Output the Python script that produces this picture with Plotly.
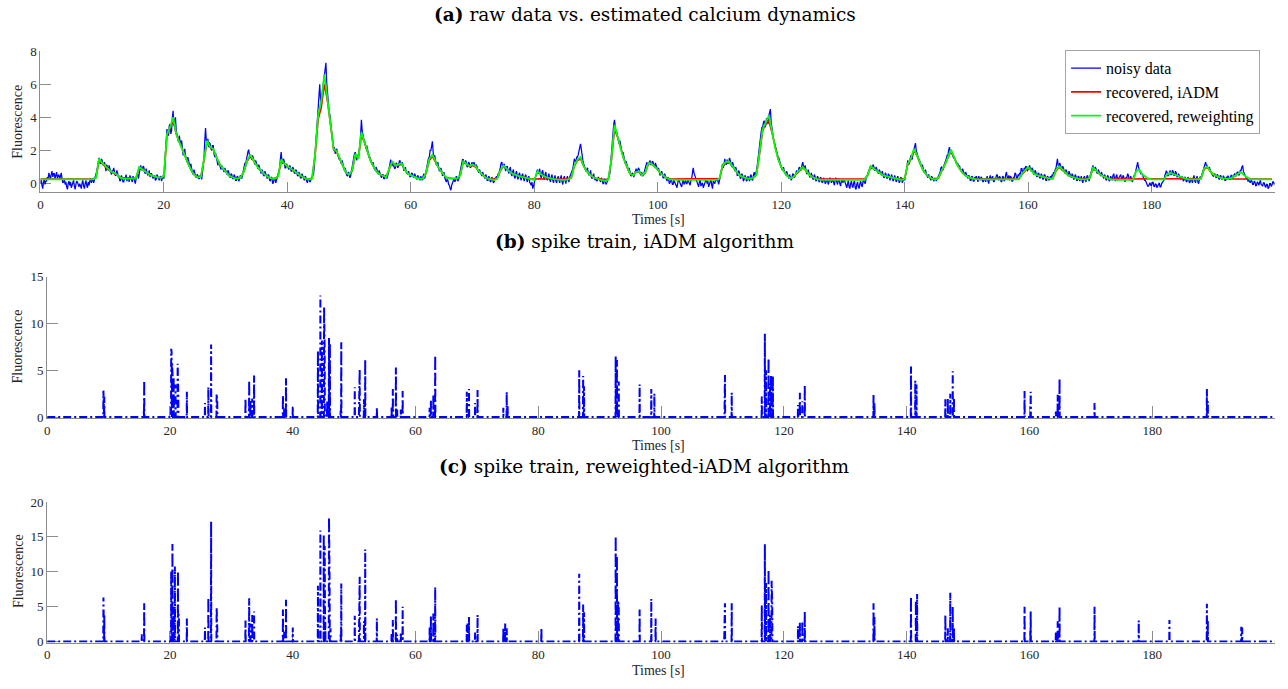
import plotly.graph_objects as go

# ---------------- data ----------------
RAW_STEP = 0.125  # seconds between noisy samples
FIT_STEP = 0.5    # seconds between recovered samples
ROW_SPAN = 10.0   # each row below covers 10 s

noisy_rows = [
    [0.05,0.25,-0.1,-0.3,0.1,0.3,-0.05,0.15,0.15,0.4,0.3,0.65,0.45,0.25,0.55,0.75,0.4,0.6,0.6,0.3,0.5,0.7,0.35,0.55,0.55,0.25,0.45,0.65,0.3,0.05,0.1,0.25,-0.05,0.1,-0.2,-0.35,0.0,0.15,-0.1,0.1,-0.25,-0.05,0.05,0.2,-0.15,-0.35,-0.05,0.15,0.1,-0.1,-0.2,0.0,-0.1,-0.3,0.05,0.2,-0.15,-0.3,0.0,0.2,-0.1,-0.25,0.1,-0.1,0.15,0.3,0.05,0.25,0.3,0.05,0.2,0.4,0.45,0.75,1.0,1.45,1.55,1.25,1.2,1.5],
    [1.4,1.15,1.1,1.3,0.95,0.75,1.15,0.9,0.8,1.1,0.9,0.65,0.55,0.8,0.75,0.95,0.7,0.5,0.5,0.8,0.65,0.4,0.4,0.15,0.2,0.5,0.35,0.1,0.1,0.35,0.3,0.55,0.15,0.35,0.35,0.1,0.5,0.3,0.3,0.1,0.45,0.3,0.15,0.0,0.3,0.55,0.55,0.3,0.6,1.0,1.1,0.85,0.8,1.05,1.0,0.7,0.6,0.9,0.75,0.5,0.55,0.8,0.4,0.6,0.6,0.35,0.3,0.5,0.45,0.2,0.25,0.55,0.4,0.2,0.2,0.4,0.45,0.15,0.3,0.5],
    [0.3,0.7,1.8,2.9,3.3,3.0,2.9,3.5,3.6,3.0,3.2,4.0,4.4,3.5,3.8,4.0,3.2,2.9,2.7,2.5,2.9,2.4,2.3,2.6,2.1,1.7,1.9,2.1,1.7,1.45,1.3,1.6,1.35,1.05,1.0,1.2,0.85,0.65,0.55,0.85,0.65,0.4,0.35,0.55,0.5,0.3,0.3,0.5,0.45,0.25,0.6,0.9,1.5,2.6,3.35,2.6,2.4,2.7,2.2,2.5,2.4,2.1,2.0,2.3,2.3,1.8,1.6,1.85,1.5,1.25,1.1,1.35,1.2,0.95,0.85,1.1,0.95,0.7,0.7,0.95],
    [0.8,0.55,0.55,0.8,0.7,0.45,0.35,0.6,0.55,0.3,0.3,0.55,0.45,0.2,0.2,0.45,0.4,0.15,0.25,0.5,0.45,0.3,0.6,0.9,0.95,1.25,1.2,1.5,1.55,1.95,2.05,1.65,1.7,1.5,1.45,1.7,1.5,1.15,1.15,1.4,1.2,0.95,0.9,1.15,0.95,0.65,0.6,0.85,0.75,0.5,0.45,0.75,0.6,0.3,0.3,0.55,0.5,0.2,0.15,0.4,0.35,0.0,0.05,0.35,0.3,0.05,0.2,0.45,0.55,0.75,0.9,1.5,1.9,1.35,1.2,1.5,1.35,0.95,0.95,1.2],
    [1.1,0.9,0.85,1.1,1.0,0.75,0.75,1.0,0.9,0.65,0.6,0.85,0.75,0.5,0.45,0.7,0.6,0.35,0.35,0.6,0.5,0.3,0.2,0.45,0.4,0.15,0.05,0.3,0.3,0.1,0.15,0.35,0.35,0.5,0.6,1.1,1.9,2.9,3.4,4.1,4.6,5.3,6.0,5.1,4.7,5.4,5.8,6.1,6.4,6.8,7.3,6.1,5.4,4.8,4.4,4.2,3.7,3.0,2.6,2.1,2.0,2.2,1.8,2.05,2.1,1.8,1.7,1.5,1.55,1.4,1.2,1.4,1.15,0.9,0.8,0.95,0.7,0.5,0.45,0.7],
    [0.6,0.35,0.45,0.75,1.0,1.35,1.6,1.8,1.9,1.5,1.4,1.7,1.7,2.0,2.3,3.0,3.85,3.2,2.9,2.7,2.6,2.4,2.1,2.3,2.0,1.75,1.6,1.6,1.4,1.25,1.15,1.3,1.05,0.85,0.8,1.0,0.85,0.6,0.55,0.8,0.65,0.45,0.35,0.55,0.55,0.3,0.3,0.5,0.5,0.3,0.45,0.65,0.95,1.3,1.45,1.2,1.25,1.05,1.1,0.9,0.95,1.25,1.2,0.95,1.05,1.35,1.4,1.15,1.15,1.3,0.95,0.8,0.8,1.0,0.7,0.55,0.55,0.75,0.6,0.4],
    [0.45,0.65,0.6,0.4,0.35,0.6,0.5,0.3,0.25,0.5,0.4,0.2,0.2,0.45,0.35,0.2,0.45,0.6,0.3,0.55,0.85,1.2,1.3,1.55,1.6,2.0,2.0,2.3,2.55,1.9,1.6,1.7,1.4,1.15,1.1,1.3,1.0,0.75,0.8,0.95,0.75,0.5,0.5,0.7,0.35,0.2,0.1,0.25,0.2,-0.05,-0.1,-0.3,-0.4,-0.1,0.05,0.25,0.3,0.1,0.2,0.45,0.35,0.15,0.25,0.5,0.6,0.9,1.1,1.45,1.45,1.2,1.25,1.4,1.3,1.0,1.05,1.3,1.2,0.95,1.0,1.25],
    [1.25,1.05,1.3,1.0,0.95,1.15,0.9,0.7,0.65,0.85,0.7,0.5,0.45,0.7,0.55,0.3,0.3,0.55,0.45,0.2,0.2,0.45,0.35,0.1,0.15,0.4,0.3,0.05,0.1,0.35,0.25,0.45,0.35,0.6,0.5,0.8,0.95,1.25,1.3,1.0,1.15,1.2,0.95,0.75,1.0,1.05,0.8,0.6,0.85,1.0,0.6,0.45,0.7,0.85,0.45,0.3,0.6,0.75,0.4,0.25,0.55,0.65,0.35,0.2,0.5,0.6,0.3,0.15,0.45,0.55,0.25,0.1,0.35,0.45,0.1,-0.1,-0.1,0.1,-0.3,-0.15],
    [0.1,0.3,0.4,0.65,0.85,0.6,0.7,0.9,0.5,0.35,0.7,0.8,0.4,0.25,0.55,0.7,0.3,0.2,0.45,0.6,0.25,0.1,0.4,0.55,0.2,0.05,0.35,0.5,0.15,0.05,0.3,0.45,0.2,0.05,0.35,0.5,0.1,-0.05,0.3,0.45,0.15,0.0,0.3,0.45,0.2,0.1,0.4,0.55,0.55,0.7,0.9,1.2,1.5,1.35,1.3,1.6,1.6,1.75,1.9,2.2,2.4,1.95,1.6,1.4,1.2,1.05,0.95,0.75,0.85,0.95,0.6,0.5,0.65,0.8,0.4,0.3,0.5,0.6,0.3,0.2],
    [0.35,0.15,0.2,0.4,0.3,0.1,0.1,0.35,0.25,0.0,0.0,0.3,0.15,-0.05,0.05,0.25,0.3,0.45,0.6,1.2,1.9,2.7,3.3,3.6,3.85,3.3,3.0,3.1,2.9,2.6,2.4,2.6,2.3,2.0,1.8,1.9,1.6,1.35,1.2,1.35,1.1,0.85,0.8,0.95,0.7,0.5,0.45,0.65,0.55,0.4,0.6,0.8,0.9,0.65,0.75,0.95,0.85,0.55,0.5,0.7,0.55,0.45,0.6,0.85,0.95,1.15,1.3,1.1,1.2,1.4,1.4,1.15,1.15,1.35,1.3,1.05,1.0,1.25,1.1,0.85],
    [0.8,0.95,0.7,0.5,0.55,0.75,0.6,0.35,0.35,0.6,0.45,0.2,0.15,0.4,0.3,0.0,0.05,0.3,0.2,-0.05,-0.05,0.2,0.1,-0.1,-0.15,-0.25,0.05,0.3,0.15,-0.05,-0.1,-0.2,0.1,0.25,-0.05,0.1,0.2,0.0,0.0,0.25,0.15,-0.05,-0.1,0.2,0.3,0.65,0.95,0.65,0.5,0.3,0.2,-0.05,-0.05,-0.2,0.1,0.25,-0.15,0.0,0.05,-0.25,-0.1,0.1,0.15,0.3,0.0,0.15,-0.2,-0.05,0.05,0.25,-0.1,-0.3,0.15,0.0,0.0,0.2,0.2,0.35,0.1,-0.05],
    [0.2,0.45,0.6,1.05,1.2,0.95,1.35,1.5,1.2,1.15,1.45,1.2,1.3,1.55,1.4,1.1,1.0,1.3,1.1,0.8,0.75,1.0,0.85,0.5,0.5,0.8,0.65,0.3,0.35,0.6,0.5,0.15,0.25,0.5,0.4,0.15,0.2,0.45,0.35,0.15,0.45,0.55,0.25,0.2,0.5,0.7,0.4,0.55,0.8,1.1,1.4,1.9,2.3,2.9,3.1,3.4,3.4,3.7,3.8,3.4,3.5,3.95,3.7,3.6,4.1,4.3,4.5,3.7,3.3,3.0,2.7,2.5,2.3,2.1,1.9,1.7,1.6,1.55,1.35,1.2],
    [1.1,0.85,0.8,1.0,0.75,0.55,0.5,0.75,0.55,0.35,0.3,0.55,0.4,0.2,0.35,0.6,0.55,0.35,0.45,0.7,0.8,0.6,0.7,0.95,1.0,0.8,0.85,1.15,1.3,1.0,0.9,1.1,0.85,0.6,0.6,0.85,0.65,0.4,0.4,0.65,0.5,0.25,0.3,0.55,0.4,0.15,0.2,0.45,0.35,0.1,0.15,0.4,0.3,0.05,0.1,0.35,0.25,0.0,0.05,0.3,0.2,-0.05,0.1,0.35,0.3,0.05,0.15,0.3,0.05,-0.1,0.25,0.35,0.1,-0.05,0.2,0.3,0.0,-0.15,0.15,0.25],
    [0.05,0.25,0.2,-0.05,-0.1,-0.25,0.1,0.2,-0.2,-0.3,0.0,0.15,-0.15,-0.25,0.05,0.15,-0.25,-0.35,-0.05,0.1,-0.2,-0.3,0.0,0.15,-0.1,-0.2,0.1,0.2,0.05,0.0,0.3,0.45,0.6,0.75,0.9,1.1,1.1,0.9,0.95,1.15,1.05,0.8,0.8,1.0,0.85,0.6,0.6,0.85,0.7,0.5,0.5,0.75,0.6,0.35,0.4,0.65,0.55,0.3,0.35,0.6,0.5,0.2,0.3,0.55,0.4,0.15,0.25,0.5,0.35,0.1,0.2,0.45,0.3,0.05,0.15,0.4,0.3,0.05,0.2,0.35],
    [0.2,0.4,0.6,1.0,1.4,1.15,1.2,1.5,1.7,1.45,1.5,1.85,2.1,2.3,2.45,2.0,1.8,1.65,1.5,1.45,1.25,1.1,1.0,1.15,0.9,0.7,0.65,0.85,0.6,0.4,0.35,0.55,0.45,0.25,0.2,0.45,0.35,0.15,0.15,0.35,0.3,0.15,0.25,0.45,0.5,0.6,0.7,0.95,1.0,0.85,0.85,1.1,1.2,1.35,1.5,1.7,1.7,2.0,2.2,1.95,1.9,1.85,1.75,1.6,1.55,1.5,1.4,1.25,1.2,1.2,1.0,1.1,0.9,0.75,0.7,0.9,0.7,0.55,0.5,0.7],
    [0.55,0.35,0.3,0.5,0.45,0.2,0.2,0.45,0.4,0.15,0.15,0.4,0.35,0.45,0.25,0.1,0.45,0.3,0.2,0.4,0.35,0.15,0.1,0.3,0.3,0.1,0.4,0.45,0.15,0.0,0.35,0.5,0.2,0.4,0.45,0.15,0.1,0.35,0.3,0.5,0.55,0.3,0.2,0.45,0.35,0.1,0.15,0.45,0.4,0.15,0.25,0.55,0.7,0.35,0.3,0.5,0.2,0.45,0.4,0.15,0.15,0.4,0.35,0.65,0.6,0.35,0.3,0.55,0.45,0.65,0.55,0.9,0.9,0.6,0.7,0.95,0.85,1.05,1.0,0.75],
    [0.9,1.1,1.1,0.85,0.75,0.95,0.85,0.6,0.55,0.8,0.7,0.45,0.4,0.65,0.6,0.35,0.35,0.6,0.5,0.25,0.3,0.55,0.5,0.2,0.2,0.45,0.4,0.2,0.25,0.45,0.35,0.5,0.45,0.7,0.6,0.85,0.9,1.2,1.5,1.1,1.0,1.25,1.1,0.8,0.8,1.05,0.9,0.65,0.6,0.85,0.7,0.45,0.45,0.75,0.6,0.35,0.35,0.6,0.5,0.25,0.3,0.55,0.45,0.2,0.2,0.45,0.4,0.15,0.3,0.45,0.15,0.05,0.35,0.45,0.2,0.1,0.4,0.5,0.3,0.15],
    [0.4,0.55,0.7,0.95,1.1,0.8,0.85,1.0,0.9,0.65,0.6,0.85,0.7,0.45,0.45,0.7,0.55,0.3,0.3,0.55,0.45,0.2,0.25,0.5,0.4,0.15,0.2,0.45,0.35,0.2,0.5,0.6,0.3,0.15,0.45,0.55,0.2,0.3,0.4,0.55,0.55,0.3,0.25,0.5,0.4,0.15,0.15,0.4,0.35,0.6,0.5,0.25,0.2,0.45,0.3,0.1,0.25,0.5,0.45,0.65,0.8,1.1,1.3,1.0,0.85,0.8,0.6,0.65,0.5,0.35,0.3,0.2,0.2,0.05,0.0,-0.15,-0.15,0.0,0.05,-0.1],
    [-0.1,0.05,0.1,-0.15,-0.2,0.0,-0.05,-0.25,-0.15,0.05,0.05,-0.2,-0.2,0.0,0.1,0.2,0.2,0.45,0.55,0.75,0.7,0.45,0.5,0.75,0.8,0.55,0.55,0.8,0.75,0.5,0.5,0.75,0.65,0.4,0.4,0.6,0.45,0.25,0.25,0.45,0.4,0.15,0.2,0.4,0.35,0.1,0.15,0.4,0.3,0.05,0.1,0.35,0.25,0.05,0.35,0.5,0.15,0.05,0.3,0.45,0.1,0.0,0.25,0.4,0.35,0.5,0.6,0.85,1.0,1.2,1.3,1.1,1.1,0.9,0.95,1.0,0.8,0.65,0.65,0.5],
    [0.45,0.6,0.6,0.4,0.35,0.55,0.5,0.3,0.25,0.5,0.45,0.25,0.3,0.45,0.4,0.2,0.2,0.4,0.35,0.45,0.4,0.25,0.25,0.5,0.5,0.3,0.35,0.55,0.6,0.45,0.5,0.7,0.7,0.5,0.55,0.8,0.8,1.0,1.1,0.75,0.6,0.45,0.45,0.3,0.3,0.15,0.2,0.05,0.05,0.2,0.15,-0.05,-0.05,0.15,0.1,-0.15,-0.1,0.1,0.05,-0.1,0.15,0.2,-0.05,-0.15,-0.15,0.05,0.05,-0.15,-0.2,-0.05,-0.05,-0.3,-0.25,0.0,0.0,-0.15,-0.1,0.1,0.1,-0.05],
]

iadm_rows = [
    [0.28,0.28,0.28,0.28,0.28,0.28,0.28,0.28,0.28,0.28,0.28,0.28,0.28,0.28,0.28,0.28,0.28,0.28,0.35,1.4],
    [1.2,1.0,0.85,0.7,0.62,0.5,0.37,0.32,0.3,0.3,0.3,0.35,0.95,0.85,0.7,0.6,0.5,0.42,0.38,0.35],
    [0.45,2.9,3.3,3.8,3.0,2.5,2.0,1.6,1.15,0.75,0.5,0.38,0.4,1.5,2.5,2.2,2.05,1.6,1.2,0.95],
    [0.7,0.5,0.4,0.33,0.3,0.4,0.75,1.35,1.65,1.4,1.1,0.85,0.65,0.5,0.38,0.3,0.3,0.45,1.35,1.2],
    [1.05,0.95,0.8,0.65,0.5,0.4,0.3,0.28,0.3,1.7,3.9,4.6,6.0,5.0,3.5,2.1,1.9,1.5,1.05,0.65],
    [0.55,0.75,1.7,1.5,2.9,2.5,1.9,1.35,1.0,0.7,0.55,0.45,0.4,0.85,1.3,1.1,1.1,1.2,0.85,0.6],
    [0.5,0.4,0.33,0.3,0.3,0.65,1.4,1.65,1.3,0.95,0.7,0.45,0.33,0.3,0.3,0.3,0.5,1.3,1.2,1.05],
    [1.1,1.0,0.75,0.55,0.4,0.3,0.28,0.28,0.3,0.75,1.05,0.9,0.72,0.6,0.5,0.45,0.4,0.38,0.32,0.28],
    [0.28,0.3,0.29,0.28,0.28,0.28,0.28,0.28,0.28,0.28,0.28,0.28,0.35,1.05,1.4,1.5,1.05,0.75,0.55,0.4],
    [0.32,0.28,0.26,0.25,0.28,1.4,3.3,2.8,2.1,1.5,1.0,0.6,0.5,0.7,0.7,0.5,0.65,1.2,1.2,1.05],
    [0.85,0.6,0.45,0.33,0.28,0.28,0.28,0.28,0.28,0.28,0.28,0.28,0.28,0.28,0.28,0.28,0.28,0.28,0.28,0.28],
    [0.3,1.0,1.25,1.3,1.1,0.85,0.6,0.45,0.35,0.3,0.3,0.35,0.55,1.8,3.2,3.6,3.8,3.1,2.2,1.5],
    [1.0,0.7,0.45,0.33,0.4,0.6,0.8,0.95,0.8,0.55,0.4,0.3,0.28,0.28,0.28,0.28,0.28,0.28,0.28,0.28],
    [0.28,0.28,0.28,0.28,0.28,0.28,0.28,0.28,0.5,1.0,0.9,0.75,0.6,0.5,0.45,0.4,0.35,0.3,0.28,0.28],
    [0.3,1.15,1.45,2.0,1.7,1.2,0.8,0.55,0.38,0.3,0.28,0.35,0.75,1.05,1.55,1.95,1.6,1.15,0.85,0.6],
    [0.45,0.35,0.3,0.28,0.28,0.28,0.28,0.28,0.28,0.28,0.28,0.28,0.28,0.28,0.28,0.28,0.28,0.28,0.55,0.75],
    [0.95,0.8,0.6,0.5,0.45,0.4,0.35,0.3,0.3,0.75,1.0,0.85,0.65,0.5,0.42,0.35,0.3,0.28,0.28,0.28],
    [0.35,0.9,0.8,0.6,0.48,0.38,0.3,0.28,0.28,0.28,0.28,0.28,0.28,0.28,0.28,0.28,0.28,0.28,0.28,0.28],
    [0.28,0.28,0.28,0.28,0.28,0.28,0.28,0.28,0.28,0.28,0.28,0.28,0.28,0.28,0.28,0.28,0.3,0.85,1.0,0.75],
    [0.55,0.45,0.38,0.32,0.3,0.28,0.28,0.28,0.28,0.28,0.28,0.28,0.28,0.28,0.28,0.28,0.28,0.28,0.28,0.28],
]

reweighted_rows = [
    [0.25,0.25,0.25,0.25,0.25,0.25,0.25,0.25,0.25,0.25,0.25,0.25,0.25,0.25,0.25,0.25,0.25,0.25,0.35,1.5],
    [1.25,1.05,0.85,0.7,0.65,0.5,0.35,0.3,0.28,0.3,0.3,0.35,1.0,0.85,0.7,0.6,0.5,0.42,0.38,0.35],
    [0.45,3.0,3.4,4.0,3.0,2.5,2.0,1.6,1.15,0.75,0.5,0.38,0.4,1.6,2.6,2.2,2.1,1.6,1.2,0.95],
    [0.7,0.5,0.4,0.32,0.3,0.4,0.8,1.4,1.75,1.4,1.1,0.85,0.65,0.5,0.38,0.3,0.3,0.45,1.45,1.2],
    [1.05,0.95,0.8,0.65,0.5,0.4,0.3,0.25,0.3,1.8,4.2,5.0,6.6,5.2,3.6,2.1,1.95,1.5,1.05,0.65],
    [0.55,0.8,1.8,1.5,3.1,2.5,1.9,1.35,1.0,0.7,0.55,0.45,0.4,0.9,1.35,1.1,1.15,1.25,0.85,0.6],
    [0.5,0.4,0.33,0.3,0.3,0.7,1.5,1.75,1.3,0.95,0.7,0.45,0.32,0.3,0.3,0.3,0.5,1.35,1.2,1.05],
    [1.15,1.05,0.75,0.55,0.4,0.3,0.25,0.22,0.3,0.8,1.1,0.9,0.72,0.6,0.5,0.45,0.4,0.38,0.32,0.25],
    [0.22,0.75,0.6,0.45,0.38,0.32,0.28,0.25,0.22,0.22,0.22,0.25,0.35,1.1,1.45,1.6,1.05,0.75,0.55,0.4],
    [0.32,0.25,0.2,0.15,0.25,1.5,3.55,2.8,2.1,1.5,1.0,0.6,0.5,0.7,0.75,0.5,0.7,1.25,1.2,1.05],
    [0.85,0.6,0.45,0.32,0.25,0.22,0.22,0.22,0.22,0.22,0.22,0.22,0.22,0.22,0.22,0.22,0.22,0.22,0.22,0.22],
    [0.3,1.1,1.3,1.35,1.1,0.85,0.6,0.45,0.35,0.3,0.3,0.35,0.55,1.9,3.3,3.7,4.1,3.2,2.2,1.5],
    [1.0,0.7,0.45,0.32,0.4,0.65,0.85,1.0,0.8,0.55,0.4,0.3,0.25,0.22,0.22,0.22,0.22,0.22,0.22,0.22],
    [0.22,0.22,0.22,0.22,0.22,0.22,0.22,0.22,0.5,1.05,0.9,0.75,0.6,0.5,0.45,0.4,0.35,0.3,0.25,0.22],
    [0.3,1.2,1.5,2.1,1.7,1.2,0.8,0.55,0.38,0.28,0.25,0.35,0.8,1.1,1.6,2.05,1.6,1.15,0.85,0.6],
    [0.45,0.35,0.3,0.27,0.25,0.25,0.25,0.25,0.25,0.25,0.25,0.25,0.25,0.25,0.25,0.25,0.25,0.25,0.6,0.8],
    [1.0,0.8,0.6,0.5,0.45,0.4,0.35,0.3,0.3,0.8,1.05,0.85,0.65,0.5,0.42,0.35,0.3,0.27,0.25,0.25],
    [0.35,0.95,0.8,0.6,0.48,0.38,0.3,0.25,0.22,0.22,0.22,0.22,0.22,0.22,0.22,0.75,0.85,0.55,0.4,0.3],
    [0.25,0.25,0.25,0.25,0.25,0.55,0.65,0.58,0.5,0.42,0.35,0.3,0.25,0.25,0.25,0.25,0.3,0.9,1.05,0.75],
    [0.55,0.45,0.38,0.32,0.3,0.3,0.35,0.45,0.55,0.7,0.5,0.35,0.25,0.25,0.25,0.25,0.25,0.25,0.25,0.25],
]

# spike train, iADM (time [s], amplitude)
spikes_iadm_t = [9.16, 9.3, 15.75, 15.8, 20.2, 20.27, 20.35, 20.45, 20.6, 20.9, 21.25, 21.35, 22.75,
                 25.7, 26.25, 26.7, 27.6, 27.7, 32.3, 32.9, 33.1, 33.4, 33.7, 38.4, 38.6, 38.9, 40.0,
                 44.1, 44.5, 44.75, 45.1, 45.2, 45.6, 45.9, 46.05, 47.8, 47.9, 50.1, 50.8, 50.9, 51.6,
                 51.8, 53.7, 56.1, 56.3, 56.8, 57.0, 57.6, 57.9, 62.3, 62.5, 62.9, 63.2, 68.35, 68.7,
                 69.7, 70.1, 74.3, 74.85, 75.0, 86.66, 87.3, 87.45, 92.6, 92.8, 93.0, 93.1, 96.5, 98.4,
                 98.9, 110.35, 110.4, 111.5, 116.4, 116.9, 117.1, 117.5, 117.75, 117.9, 118.2, 122.3,
                 122.6, 123.0, 123.4, 134.6, 134.75, 140.7, 141.4, 141.6, 146.3, 146.7, 147.1, 147.5,
                 147.7, 159.2, 160.2, 164.3, 164.6, 164.9, 170.6, 188.9, 189.05]
spikes_iadm_amp = [2.83, 2.2, 0.7, 3.88, 7.3, 6.9, 5.7, 4.0, 4.3, 3.5, 5.7, 2.5, 2.7,
                   1.5, 3.2, 7.76, 2.5, 1.6, 2.0, 3.9, 1.8, 2.0, 4.44, 2.4, 1.0, 4.15, 1.1,
                   7.1, 13.0, 8.2, 11.75, 7.2, 1.7, 8.47, 7.9, 0.7, 8.0, 3.2, 2.2, 5.1, 1.9,
                   6.16, 1.0, 1.1, 3.0, 5.3, 0.8, 0.8, 2.8, 1.0, 1.8, 2.4, 6.6, 2.7, 3.0,
                   1.5, 2.9, 1.0, 2.7, 1.2, 5.0, 4.4, 3.3, 6.5, 6.1, 3.3, 3.8, 3.5, 3.0,
                   2.5, 1.5, 4.5, 2.6, 2.2, 8.9, 5.0, 6.3, 3.6, 4.5, 4.4, 1.3,
                   2.6, 1.7, 3.4, 2.4, 1.5, 5.4, 3.9, 3.5, 1.9, 2.0, 2.5, 4.9,
                   2.1, 2.8, 2.7, 0.6, 2.4, 4.1, 1.5, 3.0, 1.7]

# spike train, reweighted-iADM (time [s], amplitude)
spikes_rw_t = [9.16, 9.3, 15.4, 15.8, 20.2, 20.4, 20.6, 20.8, 21.3, 21.45, 22.75, 25.7, 26.25, 26.7,
               27.6, 27.7, 32.3, 32.9, 33.1, 33.4, 33.7, 38.4, 38.6, 38.9, 40.0, 44.1, 44.5, 45.05,
               45.2, 45.3, 45.9, 46.0, 46.15, 47.8, 47.9, 50.1, 50.8, 50.9, 51.6, 51.8, 53.7, 56.1,
               56.3, 56.8, 57.0, 57.6, 57.9, 62.3, 62.5, 62.9, 63.2, 68.35, 68.5, 68.7, 69.7, 70.1,
               74.3, 74.6, 74.85, 80.5, 86.66, 87.3, 87.45, 92.6, 92.8, 93.0, 93.1, 96.5, 98.4, 99.1,
               110.3, 110.4, 111.5, 116.4, 116.9, 117.1, 117.5, 117.75, 118.0, 118.1, 122.3, 122.6,
               123.0, 123.4, 134.6, 134.75, 140.7, 141.5, 141.7, 146.3, 146.7, 147.1, 147.5, 147.7,
               159.2, 160.2, 164.3, 164.6, 164.9, 170.6, 177.8, 182.8, 188.9, 189.05, 194.5, 194.65]
spikes_rw_amp = [6.3, 3.8, 1.04, 5.5, 10.1, 13.96, 5.0, 10.77, 10.1, 3.9, 3.3, 2.0, 6.3, 17.2,
                 4.9, 1.9, 3.0, 6.2, 2.6, 3.8, 4.3, 4.6, 1.4, 6.0, 2.0, 8.0, 15.9, 15.3,
                 13.7, 2.8, 17.8, 9.1, 1.9, 1.0, 8.3, 3.7, 2.1, 9.3, 2.9, 13.2, 3.3, 1.1,
                 3.1, 6.1, 1.0, 1.3, 5.0, 2.0, 3.6, 4.0, 7.8, 2.4, 2.6, 3.5, 1.3, 3.8,
                 2.0, 2.6, 1.9, 1.9, 9.7, 5.3, 4.2, 15.1, 12.3, 5.9, 5.0, 4.6, 6.1, 3.3,
                 2.6, 5.5, 5.5, 5.2, 13.96, 8.4, 10.3, 3.8, 8.7, 5.6, 2.2, 2.8,
                 2.9, 4.3, 5.5, 3.5, 6.4, 5.9, 6.8, 3.8, 1.9, 7.0, 5.0, 2.0,
                 5.0, 4.3, 1.3, 2.9, 5.0, 5.0, 3.0, 3.1, 5.4, 3.0, 2.1, 2.0]

x_ticks = [0, 20, 40, 60, 80, 100, 120, 140, 160, 180]
T_END = 200.0

# ---------------- helpers ----------------
def flatten(rows, step):
    xs, ys = [], []
    for k, row in enumerate(rows):
        for i, v in enumerate(row):
            xs.append(k * ROW_SPAN + i * step)
            ys.append(v)
    return xs, ys


def spike_path(ts, amps, half=0.03):
    xs, ys = [0.0], [0.0]
    for t, a in sorted(zip(ts, amps)):
        xs += [t - half, t, t + half]
        ys += [0.0, a, 0.0]
    xs.append(T_END)
    ys.append(0.0)
    return xs, ys


t_raw, y_raw = flatten(noisy_rows, RAW_STEP)
t_iadm, y_iadm = flatten(iadm_rows, FIT_STEP)
t_rw, y_rw = flatten(reweighted_rows, FIT_STEP)
xb, yb = spike_path(spikes_iadm_t, spikes_iadm_amp)
xc, yc = spike_path(spikes_rw_t, spikes_rw_amp)

# ---------------- figure ----------------
W, H = 1288, 689
SERIF = "Liberation Serif"
TITLE_FONT = "DejaVu Serif"
AX_GRAY = "#8c8c8c"
TXT = "#262626"


def px_x(p):
    return p / W


def px_y(p):
    return (H - p) / H


fig = go.Figure()
fig.add_trace(go.Scatter(x=t_raw, y=y_raw, mode="lines", name="noisy data",
                         line=dict(color="#0000FF", width=1.25), xaxis="x", yaxis="y"))
fig.add_trace(go.Scatter(x=t_iadm, y=y_iadm, mode="lines", name="recovered, iADM",
                         line=dict(color="#FF0000", width=1.6), xaxis="x", yaxis="y"))
fig.add_trace(go.Scatter(x=t_rw, y=y_rw, mode="lines", name="recovered, reweighting",
                         line=dict(color="#00FF00", width=1.8), xaxis="x", yaxis="y"))
dashdot = "8px,3px,2px,3px"
fig.add_trace(go.Scatter(x=xb, y=yb, mode="lines", showlegend=False,
                         line=dict(color="#0000FF", width=2, dash=dashdot), xaxis="x2", yaxis="y2"))
fig.add_trace(go.Scatter(x=xc, y=yc, mode="lines", showlegend=False,
                         line=dict(color="#0000FF", width=2, dash=dashdot), xaxis="x3", yaxis="y3"))

common = dict(showline=True, linecolor=AX_GRAY, linewidth=1, ticks="inside",
              tickcolor=AX_GRAY, tickwidth=1, showgrid=False, zeroline=False,
              layer="below traces",
              tickfont=dict(family=SERIF, size=13, color=TXT))

xa = dict(common, range=[0, T_END], tickvals=x_ticks, ticklen=10)
x_dom_a = [px_x(37.5), px_x(1275)]
x_dom_bc = [px_x(44.3), px_x(1275)]

fig.update_layout(
    width=W, height=H,
    margin=dict(l=0, r=0, t=0, b=0),
    paper_bgcolor="white", plot_bgcolor="white",
    xaxis=dict(xa, domain=x_dom_a, anchor="y"),
    yaxis=dict(common, domain=[px_y(189), px_y(45)], range=[-0.533, 8],
               tickvals=[0, 2, 4, 6, 8], ticklen=11, anchor="x"),
    xaxis2=dict(xa, domain=x_dom_bc, anchor="y2", ticklen=12),
    yaxis2=dict(common, domain=[px_y(419.05), px_y(275)], range=[-0.11, 15],
                tickvals=[0, 5, 10, 15], ticklen=11, anchor="x2"),
    xaxis3=dict(xa, domain=x_dom_bc, anchor="y3", ticklen=12),
    yaxis3=dict(common, domain=[px_y(647.8), px_y(504.5)], range=[-0.15, 20],
                tickvals=[0, 5, 10, 15, 20], ticklen=11, anchor="x3"),
    showlegend=True,
    legend=dict(x=px_x(1260), y=px_y(44), xanchor="right", yanchor="top",
                bgcolor="white", bordercolor="#a6a6a6", borderwidth=1,
                font=dict(family=SERIF, size=16, color="#000000"),
                tracegroupgap=0, itemwidth=30),
)

titles = [
    ("<b>(a)</b> raw data vs. estimated calcium dynamics", 8),
    ("<b>(b)</b> spike train, iADM algorithm", 239),
    ("<b>(c)</b> spike train, reweighted-iADM algorithm", 468),
]
for text, yc_px in titles:
    fig.add_annotation(text=text, x=px_x(643), y=px_y(yc_px), xref="paper", yref="paper",
                       showarrow=False, xanchor="center", yanchor="middle",
                       font=dict(family=TITLE_FONT, size=18.5, color="#000000"))

for yc_px in (217, 447, 676):
    fig.add_annotation(text="Times [s]", x=px_x(657), y=px_y(yc_px), xref="paper", yref="paper",
                       showarrow=False, xanchor="center", yanchor="middle",
                       font=dict(family=SERIF, size=14, color=TXT))

for yc_px in (117, 346, 575):
    fig.add_annotation(text="Fluorescence", x=px_x(15), y=px_y(yc_px), xref="paper", yref="paper",
                       showarrow=False, xanchor="center", yanchor="middle", textangle=-90,
                       font=dict(family=SERIF, size=14, color=TXT))

fig.write_html("out.html")
